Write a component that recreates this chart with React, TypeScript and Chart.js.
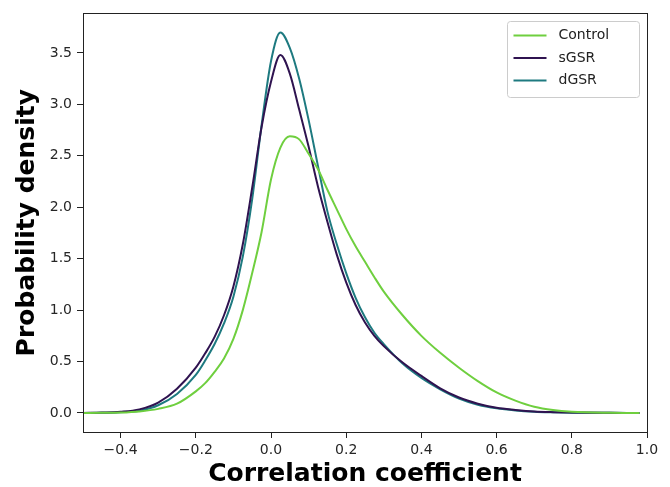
import React, { useEffect, useRef } from 'react';
import { Chart, registerables } from 'chart.js';

Chart.register(...registerables);

const xValues = [-0.5, -0.45, -0.4, -0.35, -0.3, -0.25, -0.2, -0.175, -0.15, -0.125, -0.1, -0.075, -0.05, -0.025, 0, 0.025, 0.05, 0.075, 0.1, 0.125, 0.15, 0.175, 0.2, 0.225, 0.25, 0.275, 0.3, 0.35, 0.4, 0.45, 0.5, 0.55, 0.6, 0.65, 0.7, 0.75, 0.8, 0.9, 0.98];
const controlValues = [0, 0.001, 0.004, 0.015, 0.04, 0.09, 0.21, 0.29, 0.40, 0.53, 0.72, 1.00, 1.36, 1.76, 2.27, 2.58, 2.69, 2.66, 2.52, 2.37, 2.17, 1.98, 1.79, 1.62, 1.47, 1.32, 1.18, 0.95, 0.75, 0.585, 0.44, 0.31, 0.20, 0.12, 0.06, 0.028, 0.012, 0.002, 0];
const sGSRValues = [0, 0.004, 0.012, 0.035, 0.10, 0.235, 0.44, 0.58, 0.74, 0.95, 1.23, 1.64, 2.19, 2.78, 3.22, 3.48, 3.30, 2.95, 2.59, 2.20, 1.86, 1.54, 1.27, 1.05, 0.88, 0.75, 0.65, 0.49, 0.36, 0.24, 0.15, 0.09, 0.05, 0.03, 0.015, 0.008, 0.004, 0.001, 0];
const dGSRValues = [0, 0.002, 0.008, 0.022, 0.075, 0.185, 0.37, 0.51, 0.67, 0.87, 1.13, 1.52, 2.08, 2.80, 3.42, 3.70, 3.55, 3.25, 2.85, 2.40, 1.96, 1.64, 1.36, 1.12, 0.93, 0.78, 0.67, 0.48, 0.34, 0.23, 0.14, 0.08, 0.045, 0.025, 0.013, 0.007, 0.003, 0.001, 0];

const seriesLabels = ['Control', 'sGSR', 'dGSR'];
const seriesColors = ['#6fcf3f', '#2f1350', '#1e7a80'];

const xTicks = [-0.4, -0.2, 0, 0.2, 0.4, 0.6, 0.8, 1.0];
const yTicks = [0, 0.5, 1.0, 1.5, 2.0, 2.5, 3.0, 3.5];

const xTitle = 'Correlation coefficient';
const yTitle = 'Probability density';

const FONT = '"DejaVu Sans", "Liberation Sans", sans-serif';

const framePlugin = {
  id: 'frame',
  afterDatasetsDraw(chart: any) {
    const { ctx, chartArea } = chart;
    ctx.save();
    ctx.strokeStyle = '#222';
    ctx.lineWidth = 1;
    ctx.strokeRect(
      Math.round(chartArea.left) + 0.5,
      Math.round(chartArea.top) + 0.5,
      Math.round(chartArea.right - chartArea.left),
      Math.round(chartArea.bottom - chartArea.top)
    );
    ctx.restore();
  },
};

const legendPlugin = {
  id: 'mplLegend',
  afterDraw(chart: any) {
    const { ctx, chartArea } = chart;
    const w = 132;
    const h = 76;
    const x0 = Math.round(chartArea.right - 8 - w) + 0.5;
    const y0 = Math.round(chartArea.top + 8) + 0.5;
    const r = 3;
    ctx.save();
    ctx.beginPath();
    ctx.moveTo(x0 + r, y0);
    ctx.lineTo(x0 + w - r, y0);
    ctx.quadraticCurveTo(x0 + w, y0, x0 + w, y0 + r);
    ctx.lineTo(x0 + w, y0 + h - r);
    ctx.quadraticCurveTo(x0 + w, y0 + h, x0 + w - r, y0 + h);
    ctx.lineTo(x0 + r, y0 + h);
    ctx.quadraticCurveTo(x0, y0 + h, x0, y0 + h - r);
    ctx.lineTo(x0, y0 + r);
    ctx.quadraticCurveTo(x0, y0, x0 + r, y0);
    ctx.closePath();
    ctx.fillStyle = 'rgba(255,255,255,0.8)';
    ctx.fill();
    ctx.strokeStyle = '#cccccc';
    ctx.lineWidth = 1;
    ctx.stroke();
    ctx.font = '14px ' + FONT;
    ctx.textBaseline = 'middle';
    ctx.textAlign = 'left';
    chart.data.datasets.forEach((ds: any, i: number) => {
      const y = y0 + 14 + i * 22.5;
      ctx.beginPath();
      ctx.strokeStyle = ds.borderColor;
      ctx.lineWidth = 2;
      ctx.moveTo(x0 + 6, y);
      ctx.lineTo(x0 + 39, y);
      ctx.stroke();
      ctx.fillStyle = '#222';
      ctx.fillText(ds.label, x0 + 51, y);
    });
    ctx.restore();
  },
};

export default function App() {
  const canvasRef = useRef<HTMLCanvasElement | null>(null);

  useEffect(() => {
    const canvas = canvasRef.current;
    if (!canvas) return;
    const series = [controlValues, sGSRValues, dGSRValues];
    const chart = new Chart(canvas, {
      type: 'line',
      data: {
        datasets: series.map((vals, i) => ({
          label: seriesLabels[i],
          data: xValues.map((x, j) => ({ x, y: vals[j] })),
          borderColor: seriesColors[i],
          backgroundColor: seriesColors[i],
          borderWidth: 2,
          pointRadius: 0,
          fill: false,
          cubicInterpolationMode: 'monotone',
        })),
      },
      options: {
        animation: false,
        responsive: false,
        devicePixelRatio: 1,
        layout: { padding: { left: 0, right: 23, top: 12, bottom: 0 } },
        plugins: {
          legend: { display: false },
          tooltip: { enabled: false },
        },
        scales: {
          x: {
            type: 'linear',
            min: -0.5,
            max: 1.0,
            afterBuildTicks: (s: any) => {
              s.ticks = xTicks.map((v) => ({ value: v }));
            },
            afterFit: (s: any) => {
              s.height = 55;
            },
            ticks: {
              padding: 4,
              color: '#262626',
              font: { family: FONT, size: 14 },
              callback: (v: any) => {
                const n = Number(v);
                return n < 0 ? '\u2212' + Math.abs(n).toFixed(1) : n.toFixed(1);
              },
            },
            grid: {
              drawOnChartArea: false,
              drawTicks: true,
              tickLength: 6,
              color: '#222',
            },
            border: { display: false },
            title: {
              display: true,
              text: xTitle,
              color: '#000',
              font: { family: FONT, size: 25, weight: 'bold', lineHeight: 1 },
              padding: { top: 0, bottom: 0 },
            },
          },
          y: {
            type: 'linear',
            min: -0.185,
            max: 3.885,
            afterBuildTicks: (s: any) => {
              s.ticks = yTicks.map((v) => ({ value: v }));
            },
            afterFit: (s: any) => {
              s.width = 83;
            },
            ticks: {
              padding: 5,
              color: '#262626',
              font: { family: FONT, size: 14 },
              callback: (v: any) => Number(v).toFixed(1),
            },
            grid: {
              drawOnChartArea: false,
              drawTicks: true,
              tickLength: 6,
              color: '#222',
            },
            border: { display: false },
            title: {
              display: true,
              text: yTitle,
              color: '#000',
              font: { family: FONT, size: 25, weight: 'bold', lineHeight: 1 },
              padding: { top: 15, bottom: 0 },
            },
          },
        },
      },
      plugins: [framePlugin, legendPlugin],
    } as any);
    return () => chart.destroy();
  }, []);

  return (
    <div style={{ position: 'fixed', left: 0, top: 0, width: 670, height: 487, background: '#fff' }}>
      <canvas ref={canvasRef} width={670} height={487} style={{ width: 670, height: 487 }} />
    </div>
  );
}
